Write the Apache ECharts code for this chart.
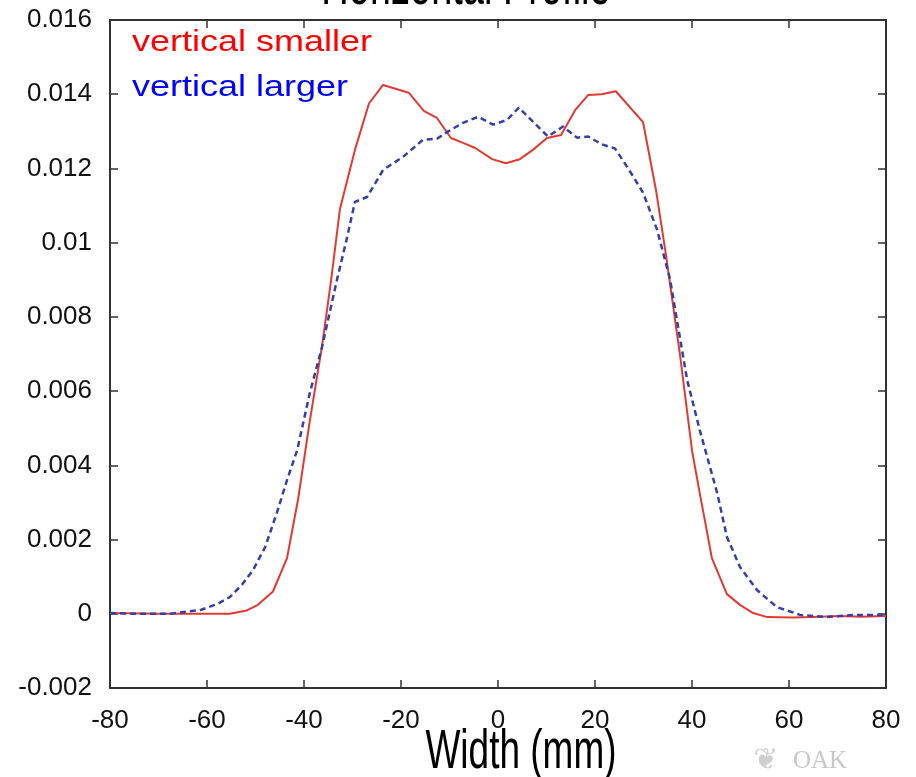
<!DOCTYPE html>
<html>
<head>
<meta charset="utf-8">
<script src="https://cdn.jsdelivr.net/npm/echarts@6/dist/echarts.min.js"></script>
<style>html,body{margin:0;padding:0;background:#fff;}#c{width:916px;height:777px;}</style>
</head>
<body>
<div id="c"></div>
<script>
const titleText = 'Horizontal Profile';
const xAxisName = 'Width (mm)';
const seriesNames = ['vertical smaller', 'vertical larger'];
const xTicks = [-80, -60, -40, -20, 0, 20, 40, 60, 80];
const yTicks = [-0.002, 0, 0.002, 0.004, 0.006, 0.008, 0.01, 0.012, 0.014, 0.016];

const redX = [-80, -70, -60, -55.3, -52, -49.5, -46.4, -43.5, -41.2, -38.8, -36.3, -34.4, -32.6, -29.5, -26.6, -23.7, -18.4, -15.3, -12.6, -9.7, -7.2, -4.7, -1.2, 1.6, 4.5, 7.2, 10.1, 13.0, 15.9, 18.6, 21.4, 24.3, 29.9, 32.6, 34.6, 37.5, 40.0, 41.6, 44.1, 47.2, 49.9, 52.6, 55.5, 60.8, 64.9, 70.5, 75, 80];
const redY = [0.00002, 0, 0, 0, 0.00008, 0.00024, 0.0006, 0.0015, 0.0031, 0.0052, 0.0072, 0.009, 0.0109, 0.0125, 0.01375, 0.01425, 0.01404, 0.01355, 0.01336, 0.01282, 0.01269, 0.01255, 0.01225, 0.01214, 0.01225, 0.0125, 0.01282, 0.0129, 0.01357, 0.01398, 0.014, 0.01408, 0.01325, 0.0114, 0.0097, 0.007, 0.0044, 0.00325, 0.0015, 0.00053, 0.00024, 0.00002, -0.00009, -0.0001, -0.00009, -0.00006, -0.00008, -0.00006];

const blueX = [-80, -73.8, -67.6, -61.4, -57.9, -55.3, -52.8, -50.5, -48.0, -45.6, -43.5, -41.4, -38.8, -36.3, -33.2, -31.1, -29.5, -27.0, -24.9, -23.7, -19.6, -15.5, -12.6, -10.5, -7.2, -4.1, -1.0, 1.9, 4.3, 7.2, 10.3, 13.4, 16.3, 18.6, 21.4, 24.1, 26.6, 29.9, 32.8, 35.5, 36.9, 39.0, 41.6, 45.2, 47.2, 49.9, 53.4, 57.5, 62.3, 67.8, 73.2, 80];
const blueY = [0.00002, 0, 0, 0.0001, 0.00026, 0.00045, 0.00078, 0.00118, 0.0018, 0.00272, 0.0036, 0.00441, 0.00595, 0.00718, 0.009, 0.01015, 0.0111, 0.01123, 0.01169, 0.01196, 0.01231, 0.01277, 0.0128, 0.01298, 0.01323, 0.01339, 0.01318, 0.01331, 0.01364, 0.01326, 0.01286, 0.01313, 0.01283, 0.01286, 0.01265, 0.01254, 0.01205, 0.01135, 0.01035, 0.009, 0.00791, 0.0063, 0.00495, 0.00325, 0.00207, 0.00126, 0.00064, 0.00018, -0.00003, -0.00009, -0.00003, -0.00003];

const zip = (xs, ys) => xs.map((x, i) => [x, ys[i]]);
const FONT = '"Liberation Sans", Arial, Helvetica, sans-serif';

const chart = echarts.init(document.getElementById('c'), null, {renderer: 'canvas'});

const xMin = xTicks[0], xMax = xTicks[xTicks.length - 1], xInt = xTicks[1] - xTicks[0];
const yMin = yTicks[0], yMax = yTicks[yTicks.length - 1], yInt = 0.002;

const axisLineStyle = {color: '#333', width: 2};
const tickStyle = {show: true, inside: true, length: 8, lineStyle: {color: '#333', width: 1.5}};

chart.setOption({
  animation: false,
  backgroundColor: '#fff',
  grid: {left: 110, right: 30, top: 20, bottom: 89, containLabel: false},
  xAxis: [
    {type: 'value', position: 'bottom', min: xMin, max: xMax, interval: xInt,
     axisLine: {show: true, onZero: false, lineStyle: axisLineStyle},
     axisTick: tickStyle, splitLine: {show: false},
     axisLabel: {color: '#111', fontSize: 26, fontFamily: FONT, margin: 20}},
    {type: 'value', position: 'top', min: xMin, max: xMax, interval: xInt,
     axisLine: {show: true, onZero: false, lineStyle: axisLineStyle},
     axisTick: tickStyle, splitLine: {show: false}, axisLabel: {show: false}}
  ],
  yAxis: [
    {type: 'value', position: 'left', min: yMin, max: yMax, interval: yInt,
     axisLine: {show: true, onZero: false, lineStyle: axisLineStyle},
     axisTick: tickStyle, splitLine: {show: false},
     axisLabel: {color: '#111', fontSize: 26, fontFamily: FONT, margin: 18,
       formatter: v => String(parseFloat(v.toFixed(4)))}},
    {type: 'value', position: 'right', min: yMin, max: yMax, interval: yInt,
     axisLine: {show: true, onZero: false, lineStyle: axisLineStyle},
     axisTick: tickStyle, splitLine: {show: false}, axisLabel: {show: false}}
  ],
  series: [
    {name: seriesNames[0], type: 'line', xAxisIndex: 0, yAxisIndex: 0,
     data: zip(redX, redY), showSymbol: false, symbol: 'none', smooth: false,
     lineStyle: {color: '#e23a33', width: 2}, z: 3},
    {name: seriesNames[1], type: 'line', xAxisIndex: 0, yAxisIndex: 0,
     data: zip(blueX, blueY), showSymbol: false, symbol: 'none', smooth: false,
     lineStyle: {color: '#3440a8', width: 2.5, type: [6, 4]}, z: 4}
  ],
  graphic: [
    {type: 'text', x: 466, y: -12, scaleY: 1.55,
     style: {text: titleText, font: '38px ' + FONT, fill: '#000', textAlign: 'center', textVerticalAlign: 'middle'}},
    {type: 'text', x: 521, y: 753, scaleY: 1.5,
     style: {text: xAxisName, font: '37px ' + FONT, fill: '#000', textAlign: 'center', textVerticalAlign: 'middle'}},
    {type: 'text', x: 132, y: 43, scaleX: 1.2,
     style: {text: seriesNames[0], font: '30px ' + FONT, fill: '#ff0000', textAlign: 'left', textVerticalAlign: 'middle'}},
    {type: 'text', x: 132, y: 87.5, scaleX: 1.2,
     style: {text: seriesNames[1], font: '30px ' + FONT, fill: '#0000ff', textAlign: 'left', textVerticalAlign: 'middle'}},
    {type: 'text', x: 766, y: 761,
     style: {text: '\u2766', font: '30px "DejaVu Sans"', fill: '#d0d0d0', textAlign: 'center', textVerticalAlign: 'middle'}},
    {type: 'text', x: 793, y: 761,
     style: {text: 'OAK', font: '25px "Liberation Serif", "DejaVu Serif", serif', fill: '#c8c8c8', textAlign: 'left', textVerticalAlign: 'middle'}}
  ]
});
</script>
</body>
</html>
